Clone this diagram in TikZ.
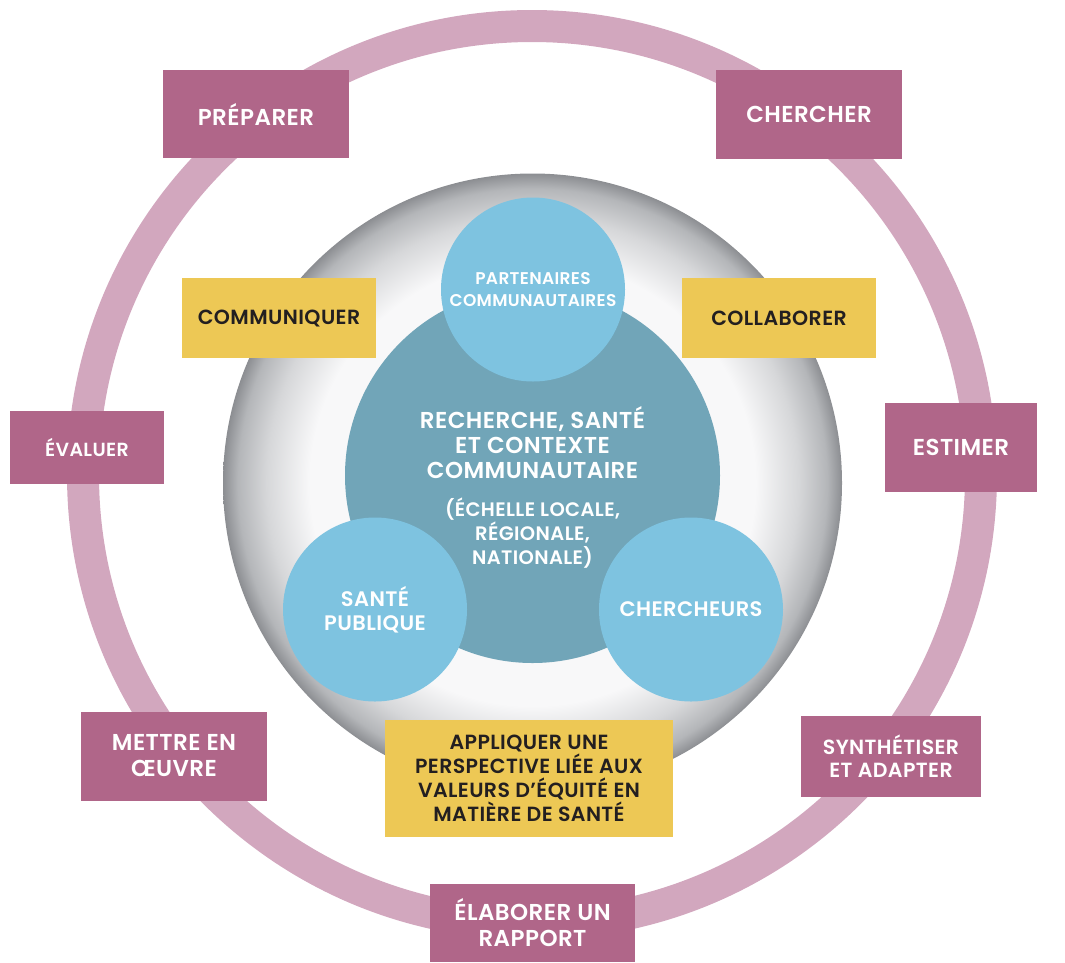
\documentclass[tikz,border=0pt]{standalone}
\usepackage{fontspec}
\setmainfont{Poppins}[BoldFont={Poppins SemiBold}, LetterSpace=2]
\usepackage{xcolor}
\usepackage{tikz}
\usetikzlibrary{shapes,arrows}

\definecolor{ringpink}{HTML}{D2A7BE}
\definecolor{phasepink}{HTML}{B06689}
\definecolor{skillgold}{HTML}{EDC855}
\definecolor{actorblue}{HTML}{7EC3E0}
\definecolor{coreteal}{HTML}{71A5B8}
\definecolor{inkdark}{HTML}{231F20}
\definecolor{rimdark}{HTML}{8C8E92}
\definecolor{rimmid}{HTML}{B4B6B9}
\definecolor{rimlight}{HTML}{D6D7D9}
\definecolor{rimwhite}{HTML}{F8F8F9}
\pgfdeclareradialshading{rim}{\pgfpoint{0bp}{0bp}}{color(0bp)=(rimwhite); color(18bp)=(rimwhite); color(21.5bp)=(rimlight); color(23.8bp)=(rimmid); color(25bp)=(rimdark); color(50bp)=(rimdark)}

\begin{document}
\begin{tikzpicture}[x=1pt, y=-1pt]
    \tikzstyle{phase} = [rectangle, fill=phasepink, text=white, align=center,
        inner sep=0pt, font=\bfseries\fontsize{23}{26}\selectfont]
    \tikzstyle{skill} = [rectangle, fill=skillgold, text=inkdark, align=center,
        inner sep=0pt, font=\bfseries\fontsize{20.5}{24}\selectfont]
    \tikzstyle{actor} = [circle, fill=actorblue, text=white, align=center,
        inner sep=0pt, minimum size=184pt, font=\bfseries\fontsize{21}{24}\selectfont]
    \tikzstyle{coretext} = [text=white, align=center, inner sep=0pt]

    \useasboundingbox (0,0) rectangle (1065,962);

    % cycle ring and rim
    \node [circle, draw=ringpink, line width=32pt, minimum size=898pt] (cycle) at (532,475) {};
    \node [circle, shading=rim, minimum size=619pt] (rim) at (532.5,483) {};
    \node [circle, fill=coreteal, minimum size=375pt] (core) at (532.5,475.5) {};

    \node [coretext, font=\bfseries\fontsize{23}{25}\selectfont] (coretitle) at (532.5,443)
        {RECHERCHE, SANTÉ\\ET CONTEXTE\\COMMUNAUTAIRE};
    \node [coretext, font=\bfseries\fontsize{19.5}{24}\selectfont] (corescope) at (532.5,533)
        {(ÉCHELLE LOCALE,\\RÉGIONALE,\\NATIONALE)};

    \node [actor, font=\bfseries\fontsize{17}{22}\selectfont] (partners) at (533,289.5)
        {PARTENAIRES\\COMMUNAUTAIRES};
    \node [actor] (health) at (375,609.5) {SANTÉ\\PUBLIQUE};
    \node [actor] (researchers) at (691,609.5) {CHERCHEURS};

    \node [skill, minimum width=194pt, minimum height=80pt] (communicate) at (279,318) {COMMUNIQUER};
    \node [skill, minimum width=194pt, minimum height=80pt] (collaborate) at (779,318) {COLLABORER};
    \node [skill, minimum width=288pt, minimum height=117pt]
        (equity) at (529,778.5) {APPLIQUER UNE\\PERSPECTIVE LIÉE AUX\\VALEURS D’ÉQUITÉ EN\\MATIÈRE DE SANTÉ};

    \node [phase, minimum width=186pt, minimum height=88pt] (prepare) at (256,114) {PRÉPARER};
    \node [phase, minimum width=186pt, minimum height=89pt] (search) at (809,114.5) {CHERCHER};
    \node [phase, minimum width=152pt, minimum height=89pt] (estimate) at (961,447.5) {ESTIMER};
    \node [phase, minimum width=180pt, minimum height=81pt, font=\bfseries\fontsize{20.5}{23}\selectfont]
        (synthesize) at (891,756.5) {SYNTHÉTISER\\ET ADAPTER};
    \node [phase, minimum width=205pt, minimum height=78pt] (report) at (532.5,923) {ÉLABORER UN\\RAPPORT};
    \node [phase, minimum width=186pt, minimum height=89pt] (implement) at (174,756) {METTRE EN\\ŒUVRE};
    \node [phase, minimum width=154pt, minimum height=73pt, font=\bfseries\fontsize{19}{23}\selectfont]
        (evaluate) at (87,447.5) {ÉVALUER};
\end{tikzpicture}
\end{document}
